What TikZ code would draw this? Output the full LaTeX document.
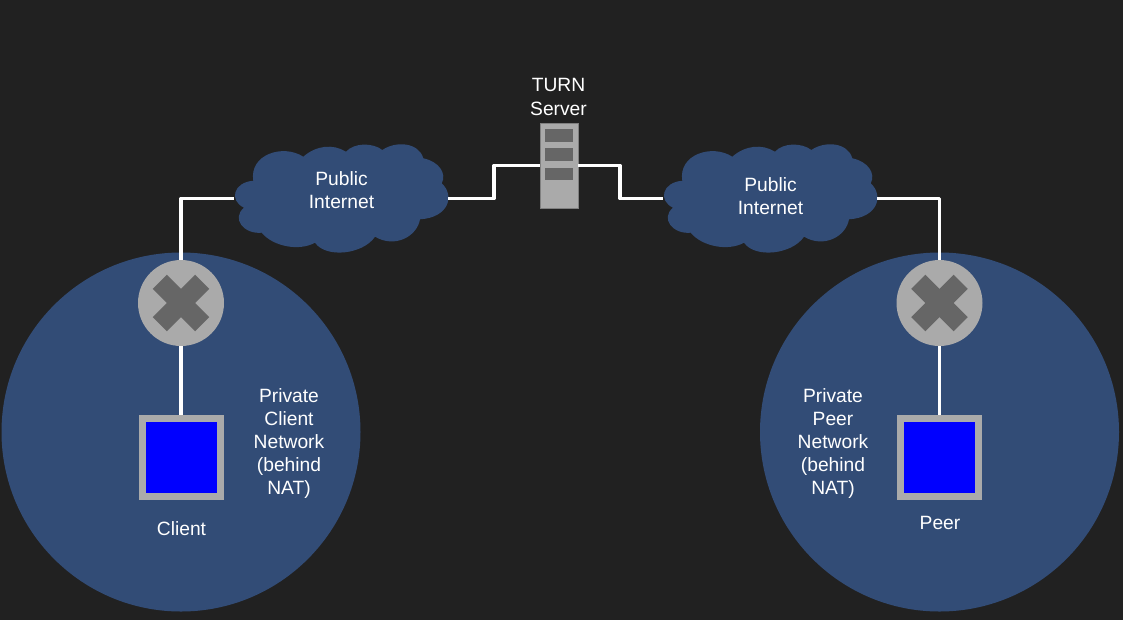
\documentclass[tikz,border=0pt]{standalone}
\usepackage{fontspec}
\setmainfont{Liberation Sans}
\definecolor{bgdark}{HTML}{212121}
\definecolor{netblue}{HTML}{324C76}
\definecolor{boxgray}{HTML}{AAAAAA}
\definecolor{markgray}{HTML}{666666}
\tikzset{
  label text/.style={text=white,align=center,font=\fontsize{10.95}{13.2}\selectfont,inner sep=0pt},
  link/.style={draw=white,line width=1.9pt,line join=round},
  cloud box/.style={minimum width=4.28cm,minimum height=2.18cm,inner sep=0pt},
  router/.style={circle,fill=boxgray,minimum size=1.72cm,inner sep=0pt},
  host/.style={rectangle,draw=boxgray,fill=blue,line width=4.2pt,minimum size=1.56cm,inner sep=0pt},
  slot/.style={rectangle,fill=markgray,minimum width=0.56cm,minimum height=0.25cm,inner sep=0pt}
}
% cloud outline around the origin
\newcommand{\cloudpath}{
  (-87.7,-17.8) .. controls (-92,-44) and (-58,-55) .. (-37.7,-41.8)
  .. controls (-25,-53) and (-8,-55) .. (5,-46.8)
  .. controls (13,-56) and (32,-56) .. (41.3,-48.5)
  .. controls (55,-58) and (78,-56) .. (82.3,-40.2)
  .. controls (98,-37) and (106,-25) .. (100.7,-15.2)
  .. controls (114,-3) and (108,19) .. (79,20.8)
  .. controls (76,38) and (54,50) .. (34,38.2)
  .. controls (22,56) and (-15,60) .. (-26,44.2)
  .. controls (-42,53) and (-68,48) .. (-79.3,34.2)
  .. controls (-97,36) and (-110,20) .. (-97,9.2)
  .. controls (-112,2) and (-108,-16) .. (-87.7,-17.8) -- cycle}
\begin{document}
\begin{tikzpicture}[x=0.02cm,y=-0.02cm]
% background
\fill[bgdark] (0,0) rectangle (1123,620);
\useasboundingbox (0,0) rectangle (1123,620);
% private networks
\fill[netblue] (181,432) circle (179.5);
\fill[netblue] (939.5,432) circle (179.5);
% clouds
\fill[netblue,shift={(341,198.5)}] \cloudpath;
\fill[netblue,shift={(770,198.5)}] \cloudpath;
\node[cloud box] (cloudA) at (341,198.5) {};
\node[cloud box] (cloudB) at (770,198.5) {};
\node[label text] (publicA) at (341.5,190) {Public\\Internet};
\node[label text] (publicB) at (770.5,196) {Public\\Internet};
% server
\node[rectangle,fill=boxgray,draw=gray,line width=0.4pt,minimum width=0.76cm,minimum height=1.7cm,inner sep=0pt] (server) at (559,165.5) {};
\foreach \n/\y in {1/135.5,2/154.7,3/174.2}
  \node[slot] (slot\n) at (559,\y) {};
\node[label text] (turn) at (558.5,97) {TURN\\Server};
% routers
\node[router] (routerA) at (181,303) {};
\node[router] (routerB) at (939.5,303) {};
\foreach \c in {routerA,routerB} {
  \fill[markgray,rotate around={45:(\c)}] ([xshift=-0.6cm,yshift=-0.2cm]\c.center) rectangle ([xshift=0.6cm,yshift=0.2cm]\c.center);
  \fill[markgray,rotate around={-45:(\c)}] ([xshift=-0.6cm,yshift=-0.2cm]\c.center) rectangle ([xshift=0.6cm,yshift=0.2cm]\c.center);
}
% hosts
\node[host] (client) at (181.3,457.5) {};
\node[host] (peer) at (939.5,457.5) {};
\node[label text] (clientname) at (181.5,529) {Client};
\node[label text] (peername) at (940,523) {Peer};
\node[label text] (privateA) at (289,443.5) {Private\\Client\\Network\\(behind\\NAT)};
\node[label text] (privateB) at (833,443.5) {Private\\Peer\\Network\\(behind\\NAT)};
% links
\coordinate (stepA) at (494,165.5);
\coordinate (stepB) at (620,165.5);
\draw[link] (cloudA.west) -| (routerA.north);
\draw[link] (routerA.south) -- (routerA.south |- client.north);
\draw[link] (cloudA.east) -| (stepA) -- (server.west);
\draw[link] (server.east) -- (stepB) |- (cloudB.west);
\draw[link] (cloudB.east) -| (routerB.north);
\draw[link] (routerB.south) -- (peer.north);
\end{tikzpicture}
\end{document}
